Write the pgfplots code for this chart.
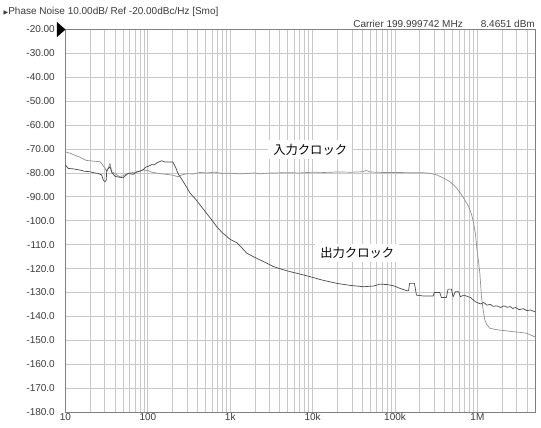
\documentclass[border=0pt]{standalone}
\usepackage{pgfplots}
\pgfplotsset{compat=1.18}
\usepackage{fontspec}
\setmainfont{Liberation Sans}
\newfontfamily\cjk{Noto Sans CJK JP}
\newfontfamily\dv{DejaVu Sans}
\definecolor{gridc}{RGB}{200,200,200}
\definecolor{inclk}{RGB}{145,145,145}
\definecolor{outclk}{RGB}{75,75,75}
\definecolor{txtc}{RGB}{60,60,60}
\begin{document}
\begin{tikzpicture}
\path[use as bounding box] (-65.5bp,-16bp) rectangle (475.5bp,412bp);
\fill[white] (-65.5bp,-16bp) rectangle (475.5bp,412bp);
\begin{axis}[
  at={(0bp,0bp)}, anchor=south west,
  scale only axis, width=469.5bp, height=382.5bp,
  xmode=log, xmin=10, xmax=5e6, ymin=-180, ymax=-20,
  xtick={10,100,1000,10000,100000,1000000},
  xticklabels={10,100,1k,10k,100k,1M},
  minor xtick={20,30,40,50,60,70,80,90,200,300,400,500,600,700,800,900,2000,3000,4000,5000,6000,7000,8000,9000,20000,30000,40000,50000,60000,70000,80000,90000,200000,300000,400000,500000,600000,700000,800000,900000,2000000,3000000,4000000},
  ytick={-180,-170,...,-20},
  yticklabels={-180.0,-170.0,-160.0,-150.0,-140.0,-130.0,-120.0,-110.0,-100.0,-90.00,-80.00,-70.00,-60.00,-50.00,-40.00,-30.00,-20.00},
  xmajorgrids, xminorgrids, ymajorgrids,
  major grid style={draw=gridc, line width=0.8bp},
  minor grid style={draw=gridc, line width=0.8bp},
  major tick length=0pt, minor tick length=0pt,
  axis line style={draw=black!50, line width=0.9bp},
  tick label style={font=\fontsize{10bp}{12bp}\selectfont, text=txtc},
  yticklabel style={anchor=east, inner sep=0pt, xshift=-10.5bp},
  xticklabel style={anchor=north, inner sep=0pt, yshift=-1.5bp},
  every axis plot/.append style={line width=0.7bp, line join=round},
]
% input clock
\addplot[color=inclk] table {
10 -71.2
11.5 -71.8
13 -72.6
15 -73.4
17 -74.4
18.1 -74.8
21 -75.0
24 -75.2
26.2 -75.3
28 -76.5
30.2 -78.1
31.7 -79.5
33 -78.0
34.7 -76.0
36.4 -79.5
40 -80.3
45 -81.5
50 -81.2
57 -80.2
66 -79.8
75 -79.5
82 -79.0
88 -78.8
100 -79.0
110 -79.6
125 -80.0
140 -80.3
160 -80.5
185 -80.8
200 -80.9
230 -81.6
260 -80.8
300 -80.3
350 -80.5
430 -79.8
520 -80.0
650 -79.7
800 -80.2
1000 -80.1
1300 -80.4
1600 -80.2
2000 -80.0
2300 -80.4
2700 -80.1
3500 -80.0
5000 -79.9
7000 -80.0
10000 -79.7
14000 -79.8
20000 -79.6
30000 -79.7
40000 -79.5
45000 -79.0
50000 -79.6
70000 -79.8
100000 -79.8
150000 -79.9
200000 -79.9
245000 -80.0
270000 -80.2
325000 -80.9
380000 -82.0
430000 -83.0
470000 -83.8
550000 -86.0
620000 -88.4
680000 -90.5
783000 -94.1
850000 -97.5
900000 -101.0
950000 -106.0
990000 -112.3
1030000 -117.0
1070000 -122.0
1120000 -131.8
1170000 -137.0
1230000 -141.5
1300000 -143.5
1420000 -145.0
1800000 -145.7
2200000 -146.0
2700000 -146.4
3300000 -146.7
3900000 -147.0
4500000 -147.9
5000000 -148.6
};
% output clock
\addplot[color=outclk] table {
10 -76.7
10.8 -78.1
12.4 -78.3
15.0 -78.8
17 -79.3
19.8 -79.5
22.5 -80.0
25.0 -80.2
27.5 -80.9
28.8 -83.0
30.2 -83.7
31.2 -83.0
31.7 -78.8
34.7 -77.4
36.4 -79.8
39.9 -81.4
45 -81.8
50 -82.0
57.5 -80.2
66.6 -80.6
74 -79.5
80.4 -79.3
88 -78.6
95 -77.5
101.8 -77.2
111.6 -76.5
120 -76.6
128.5 -75.8
140 -75.2
148 -74.9
160 -75.4
185 -75.4
200 -75.4
214 -77.2
235 -80.6
258 -82.7
290 -85.5
326 -88.5
380 -91.0
430 -93.4
500 -96.3
597 -99.7
687 -102.5
800 -105.0
1000 -107.8
1200 -109.2
1400 -111.5
1590 -113.6
1900 -115.0
2300 -116.4
2800 -117.8
3350 -119.2
4200 -120.3
5350 -121.3
7000 -122.3
9350 -123.4
13000 -124.8
19700 -126.2
28000 -127.0
41500 -127.6
55000 -127.3
66000 -126.5
80000 -126.7
96000 -127.2
115000 -128.3
140000 -129.3
146000 -129.3
150000 -126.2
172000 -126.2
182000 -131.1
223000 -131.5
290000 -131.5
300000 -130.0
349000 -130.0
365000 -132.1
420000 -132.1
440000 -128.6
483000 -128.6
507000 -131.8
540000 -129.7
593000 -129.7
622000 -131.8
682000 -131.1
822000 -132.1
946000 -133.9
1090000 -134.8
1200000 -134.2
1300000 -135.3
1440000 -135.0
1550000 -135.8
1730000 -135.6
1900000 -136.3
2100000 -135.6
2300000 -136.2
2500000 -135.9
2690000 -136.7
2900000 -136.3
3200000 -137.2
3600000 -136.8
4000000 -137.6
4400000 -137.3
5000000 -138.1
};
\node[fill=white, inner xsep=5bp, inner ysep=3.5bp, font=\cjk\fontsize{12.3bp}{14bp}\selectfont, text=black] at (axis cs:9350,-70.2) {入力クロック};
\node[fill=white, inner xsep=5bp, inner ysep=3.5bp, font=\cjk\fontsize{12.3bp}{14bp}\selectfont, text=black] at (axis cs:34800,-113.5) {出力クロック};
\end{axis}
\fill[black] (-8.5bp,390bp) -- (-8.5bp,375bp) -- (0bp,382.5bp) -- cycle;
\node[anchor=base west, inner sep=0pt, text=txtc, font=\fontsize{10bp}{12bp}\selectfont] at (-62bp,397.5bp) {{\dv\fontsize{6bp}{7bp}\selectfont ▶}Phase Noise 10.00dB/ Ref -20.00dBc/Hz [Smo]};
\node[anchor=base east, inner sep=0pt, text=txtc, font=\fontsize{10bp}{12bp}\selectfont] at (397.5bp,384.5bp) {Carrier 199.999742 MHz};
\node[anchor=base east, inner sep=0pt, text=txtc, font=\fontsize{10bp}{12bp}\selectfont] at (469.5bp,384.5bp) {8.4651 dBm};
\end{tikzpicture}
\end{document}
